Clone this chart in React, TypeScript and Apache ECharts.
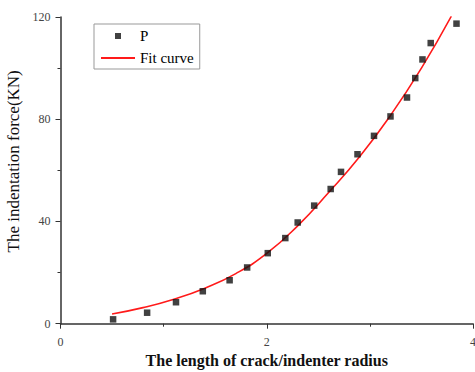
import React, { useEffect, useRef } from "react";
import * as echarts from "echarts";

// Measured points (crack length / indenter radius, indentation force kN)
const pointX = [0.51, 0.84, 1.12, 1.38, 1.64, 1.81, 2.01, 2.18, 2.3, 2.46, 2.62, 2.72, 2.88, 3.04, 3.2, 3.36, 3.44, 3.51, 3.59, 3.84];
const pointY = [1.7, 4.3, 8.4, 12.7, 17.0, 22.0, 27.6, 33.5, 39.6, 46.2, 52.7, 59.4, 66.3, 73.5, 81.1, 88.5, 96.1, 103.4, 109.8, 117.4];

// Fit curve samples
const curveX = [0.5, 0.8, 1.1, 1.4, 1.7, 2.0, 2.3, 2.6, 2.9, 3.2, 3.5, 3.79];
const curveY = [3.8, 6.3, 9.6, 13.9, 19.6, 27.5, 38.3, 51.3, 65.3, 81.5, 100.0, 120.3];

const xTitle = "The length of crack/indenter radius";
const yTitle = "The indentation force(KN)";
const seriesNames = ["P", "Fit curve"];

const FONT = "'Liberation Serif', 'Times New Roman', serif";

export default function App() {
  const ref = useRef<HTMLDivElement>(null);
  useEffect(() => {
    if (!ref.current) return;
    const chart = echarts.init(ref.current, null, { renderer: "svg" });
    chart.setOption({
      animation: false,
      backgroundColor: "#fff",
      textStyle: { fontFamily: FONT },
      grid: {
        left: 60.5,
        right: 2,
        top: 17,
        bottom: 48.3,
        containLabel: false,
        outerBoundsMode: "none",
      },
      legend: {
        orient: "vertical",
        left: 94,
        top: 24,
        padding: [4, 6, 3, 7],
        borderColor: "#999",
        borderWidth: 1,
        itemWidth: 34,
        itemHeight: 6,
        itemGap: 6,
        symbolKeepAspect: true,
        textStyle: { fontFamily: FONT, fontSize: 15, color: "#000", lineHeight: 16 },
        data: [
          { name: seriesNames[0], icon: "path://M0,0L10,0L10,10L0,10Z" },
          { name: seriesNames[1], icon: "path://M0,0L34,0L34,2L0,2Z" },
        ],
      },
      xAxis: {
        type: "value",
        min: 0,
        max: 4,
        interval: 2,
        name: xTitle,
        nameLocation: "middle",
        nameGap: 26,
        nameTextStyle: { fontFamily: FONT, fontSize: 16, fontWeight: "bold", color: "#111" },
        axisLine: { show: true, onZero: false, lineStyle: { color: "#333", width: 1.5 } },
        axisTick: { show: true, inside: false, length: 5, lineStyle: { color: "#333", width: 1 } },
        minorTick: { show: true, splitNumber: 2, length: 3, lineStyle: { color: "#333", width: 1 } },
        axisLabel: { margin: 12, fontFamily: FONT, fontSize: 12, color: "#444" },
        splitLine: { show: false },
        minorSplitLine: { show: false },
      },
      yAxis: {
        type: "value",
        min: 0,
        max: 120,
        interval: 40,
        name: yTitle,
        nameLocation: "middle",
        nameGap: 36,
        nameRotate: 90,
        nameTextStyle: { fontFamily: FONT, fontSize: 17, color: "#111", padding: [0, 0, 0, 18] },
        axisLine: { show: true, onZero: false, lineStyle: { color: "#333", width: 1.5 } },
        axisTick: { show: true, inside: false, length: 5, lineStyle: { color: "#333", width: 1 } },
        minorTick: { show: true, splitNumber: 2, length: 3, lineStyle: { color: "#333", width: 1 } },
        axisLabel: { margin: 10, fontFamily: FONT, fontSize: 12, color: "#444" },
        splitLine: { show: false },
        minorSplitLine: { show: false },
      },
      series: [
        {
          name: seriesNames[0],
          type: "scatter",
          symbol: "rect",
          symbolSize: 6.5,
          itemStyle: { color: "#111" },
          data: pointX.map((x, i) => [x, pointY[i]]),
          z: 3,
        },
        {
          name: seriesNames[1],
          type: "line",
          smooth: true,
          symbol: "none",
          showSymbol: false,
          lineStyle: { color: "#ff1a1a", width: 1.6 },
          itemStyle: { color: "#ff1a1a" },
          data: curveX.map((x, i) => [x, curveY[i]]),
          z: 2,
        },
      ],
    });
    return () => chart.dispose();
  }, []);
  return <div ref={ref} style={{ width: 475, height: 372, position: "fixed", left: 0, top: 0 }} />;
}
